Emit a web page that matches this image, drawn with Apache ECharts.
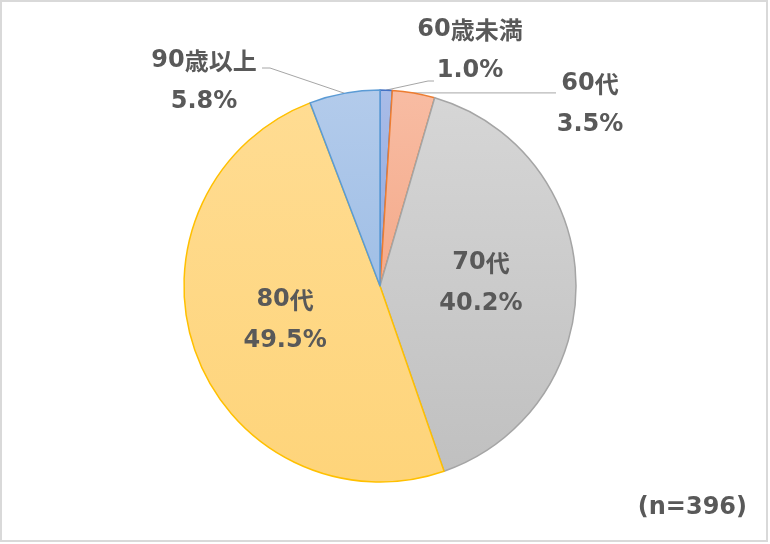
<!DOCTYPE html>
<html>
<head>
<meta charset="utf-8">
<script src="https://cdn.jsdelivr.net/npm/echarts@6/dist/echarts.min.js"></script>
<style>
  html, body { margin: 0; padding: 0; background: #fff; }
  #main { width: 770px; height: 544px; }
</style>
</head>
<body>
<div id="main"></div>
<script>
// 年齢構成 (n=396)
var categories = ['60歳未満', '60代', '70代', '80代', '90歳以上'];
var shares = [1.0, 3.5, 40.2, 49.5, 5.8];
var sampleNote = '(n=396)';

var fillTop = ['#A9BCE8', '#F8BCA3', '#D6D6D6', '#FFDC92', '#B3CBEB'];
var fillBottom = ['#8FA8DC', '#F4AA8A', '#C0C0C0', '#FED47A', '#A0BFE6'];
var borderColors = ['#4472C4', '#ED7D31', '#A5A5A5', '#FFC000', '#5B9BD5'];
var outsideIdx = [0, 1, 4];

var textGray = '#595959';

// 英数字とCJKでフォントを分ける
function mix(s) {
    return s.split(/([\u3000-\u9fff]+)/).filter(function (t) { return t; }).map(function (t) {
        return /[\u3000-\u9fff]/.test(t) ? '{j|' + t + '}' : '{d|' + t + '}';
    }).join('');
}

var chart = echarts.init(document.getElementById('main'));

var seriesData = categories.map(function (name, i) {
    var item = {
        name: name,
        value: shares[i],
        itemStyle: {
            color: new echarts.graphic.LinearGradient(0, 0, 0, 1, [
                { offset: 0, color: fillTop[i] },
                { offset: 1, color: fillBottom[i] }
            ]),
            borderColor: borderColors[i],
            borderWidth: 1.5
        }
    };
    if (outsideIdx.indexOf(i) >= 0) {
        item.label = { position: 'outside' };
        item.labelLine = { show: true };
    }
    return item;
});

var option = {
    animation: false,
    backgroundColor: '#fff',
    graphic: [
        {
            type: 'rect',
            shape: { x: 1, y: 1, width: 766, height: 540 },
            style: { fill: 'none', stroke: '#D9D9D9', lineWidth: 2 },
            silent: true
        },
        {
            type: 'text',
            right: 23,
            top: 496,
            style: {
                text: sampleNote,
                fill: textGray,
                font: 'bold 24px "DejaVu Sans", sans-serif'
            }
        }
    ],
    series: [
        {
            type: 'pie',
            center: [380, 286],
            radius: 196,
            startAngle: 90,
            clockwise: true,
            avoidLabelOverlap: false,
            data: seriesData,
            label: {
                show: true,
                position: 'inside',
                formatter: function (p) {
                    return mix(p.name) + '\n' + mix(p.value.toFixed(1) + '%');
                },
                rich: {
                    d: { fontFamily: 'DejaVu Sans', fontSize: 24, fontWeight: 'bold', color: textGray, lineHeight: 41 },
                    j: { fontFamily: 'Noto Sans CJK JP', fontSize: 24, fontWeight: 'bold', color: textGray, lineHeight: 41 }
                }
            },
            labelLine: {
                show: false,
                lineStyle: { color: '#A6A6A6', width: 1 }
            },
            labelLayout: function (params) {
                var p0 = params.labelLinePoints ? params.labelLinePoints[0] : null;
                if (params.dataIndex === 0) {
                    return {
                        x: 470, y: 50, align: 'center', verticalAlign: 'middle',
                        labelLinePoints: [p0, [428, 81], [434, 81]]
                    };
                }
                if (params.dataIndex === 1) {
                    return {
                        x: 590, y: 104, align: 'center', verticalAlign: 'middle',
                        labelLinePoints: [[p0[0] - 22, p0[1]], [500, p0[1]], [556, p0[1]]]
                    };
                }
                if (params.dataIndex === 4) {
                    return {
                        x: 204, y: 81, align: 'center', verticalAlign: 'middle',
                        labelLinePoints: [p0, [270, 68], [262, 68]]
                    };
                }
            }
        }
    ]
};

chart.setOption(option, true);
window.onresize = function () {
    chart.resize();
};
</script>
</body>
</html>
